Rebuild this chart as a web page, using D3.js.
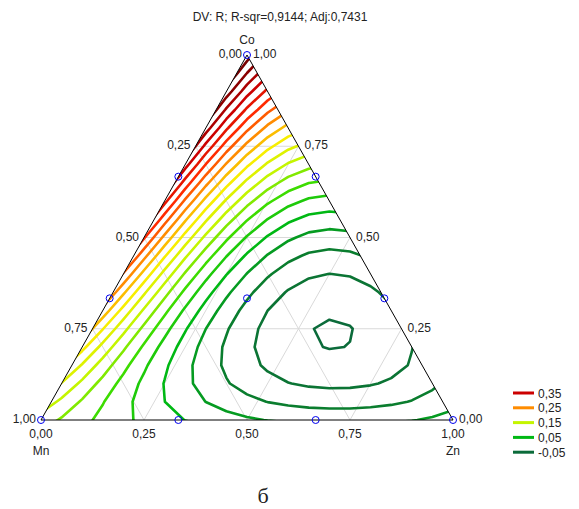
<!DOCTYPE html>
<html>
<head>
<meta charset="utf-8">
<script src="https://cdn.jsdelivr.net/npm/d3@7"></script>
<style>
  body { margin: 0; background: #fff; }
  svg { display: block; font-family: Arial, "Liberation Sans", sans-serif; }
</style>
</head>
<body>
<svg id="chart" width="579" height="509"></svg>
<script>
// Special cubic mixture model for R; components ordered Mn, Zn, Co
const linearCoef = [0.138, 0.034, 0.438];     // Mn, Zn, Co
const binaryCoef = [-0.229, 0.06, -0.878];    // Mn*Zn, Mn*Co, Zn*Co
const ternaryCoef = -2.33;                    // Mn*Zn*Co

// Contour levels and legend entries
const levels = [-0.05, -0.025, 0, 0.025, 0.05, 0.075, 0.1, 0.125, 0.15, 0.175,
                0.2, 0.225, 0.25, 0.275, 0.3, 0.325, 0.35, 0.375, 0.4, 0.425];
const legendLevels = [0.35, 0.25, 0.15, 0.05, -0.05];
const colorStops = [-0.05, 0, 0.05, 0.1, 0.15, 0.2, 0.25, 0.3, 0.35, 0.4, 0.45];
const colorValues = ["#0b6b3a", "#0a7d2e", "#00b814", "#3ddc00", "#c4f500",
                     "#f7ee00", "#ff8c00", "#ff2a00", "#cc0000", "#8a0000", "#6a0000"];

// Axis ticks and mixture design points (fractions)
const tickValues = [0, 0.25, 0.5, 0.75, 1];
const gridValues = [0.25, 0.5, 0.75];
const designMn = [1, 0, 0, 2/3, 1/3, 2/3, 1/3, 0, 0, 1/3];
const designZn = [0, 1, 0, 1/3, 2/3, 0, 0, 2/3, 1/3, 1/3];
const designCo = [0, 0, 1, 0, 0, 1/3, 2/3, 1/3, 2/3, 1/3];
const titleText = "DV: R; R-sqr=0,9144; Adj:0,7431";

const svg = d3.select("#chart");
const fmt = d3.formatLocale({decimal: ",", thousands: " ", grouping: [3],
                             currency: ["", ""], minus: "-"}).format(".2f");

// Ternary projection: u = Zn + Co/2 along the base, v = Co up the height
const xScale = d3.scaleLinear().domain([0, 1]).range([41, 453]);
const yScale = d3.scaleLinear().domain([0, 1]).range([420, 55]);
const px = (mn, zn, co) => xScale(zn + co / 2);
const py = (mn, zn, co) => yScale(co);

const color = d3.scaleLinear().domain(colorStops).range(colorValues);

function response(mn, zn, co) {
  return linearCoef[0] * mn + linearCoef[1] * zn + linearCoef[2] * co
       + binaryCoef[0] * mn * zn + binaryCoef[1] * mn * co + binaryCoef[2] * zn * co
       + ternaryCoef * mn * zn * co;
}

// Evaluation grid over the (u, v) plane, a little wider than the triangle
const steps = 20, pad = 2;
const nx = steps + 1 + 2 * pad, ny = steps + 1 + 2 * pad;
const uMin = -pad / steps, uMax = 1 + pad / steps;
const vMin = -pad / steps, vMax = 1 + pad / steps;
const values = new Array(nx * ny);
for (let j = 0; j < ny; j++) {
  const v = vMin + (vMax - vMin) * j / (ny - 1);
  for (let i = 0; i < nx; i++) {
    const u = uMin + (uMax - uMin) * i / (nx - 1);
    const co = v, zn = u - v / 2, mn = 1 - zn - co;
    values[j * nx + i] = response(mn, zn, co);
  }
}
const gx = d3.scaleLinear().domain([0.5, nx - 0.5]).range([uMin, uMax]);
const gy = d3.scaleLinear().domain([0.5, ny - 0.5]).range([vMin, vMax]);
const path = d3.geoPath(d3.geoTransform({
  point(x, y) { this.stream.point(xScale(gx(x)), yScale(gy(y))); }
}));
const contours = d3.contours().size([nx, ny]).thresholds(levels)(values);

// Triangle outline and clip
const corners = [[1, 0, 0], [0, 1, 0], [0, 0, 1]];
const triPoints = corners.map(c => [px(...c), py(...c)]);
svg.append("clipPath").attr("id", "tri")
  .append("polygon").attr("points", triPoints.map(p => p.join(",")).join(" "));

// Grid lines
const gridSegs = [];
gridValues.forEach(t => {
  gridSegs.push([[1 - t, 0, t], [0, 1 - t, t]]);   // Co = t
  gridSegs.push([[1 - t, t, 0], [0, t, 1 - t]]);   // Zn = t
  gridSegs.push([[t, 1 - t, 0], [t, 0, 1 - t]]);   // Mn = t
});
svg.append("g").selectAll("line").data(gridSegs).join("line")
  .attr("x1", d => px(...d[0])).attr("y1", d => py(...d[0]))
  .attr("x2", d => px(...d[1])).attr("y2", d => py(...d[1]))
  .attr("stroke", "#d9d9d9").attr("stroke-width", 1);

// Contour lines
svg.append("g").attr("clip-path", "url(#tri)")
  .selectAll("path").data(contours).join("path")
  .attr("d", path)
  .attr("fill", "none")
  .attr("stroke", d => color(d.value))
  .attr("stroke-width", 2.6)
  .attr("stroke-linejoin", "round");

// Triangle edges
svg.append("polygon")
  .attr("points", triPoints.map(p => p.join(",")).join(" "))
  .attr("fill", "none").attr("stroke", "#000").attr("stroke-width", 1);

// Design points
svg.append("g").selectAll("circle").data(d3.range(designMn.length)).join("circle")
  .attr("cx", i => px(designMn[i], designZn[i], designCo[i]))
  .attr("cy", i => py(designMn[i], designZn[i], designCo[i]))
  .attr("r", 3.5).attr("fill", "none").attr("stroke", "#0000ee").attr("stroke-width", 1);

// Title
svg.append("text").attr("x", 280).attr("y", 21).attr("text-anchor", "middle")
  .attr("font-size", 12).attr("fill", "#222").text(titleText);

const labels = svg.append("g").attr("font-size", 12).attr("fill", "#222");
// Bottom axis: Zn fraction
tickValues.forEach(t => {
  labels.append("text").attr("x", px(1 - t, t, 0)).attr("y", 438)
    .attr("text-anchor", "middle").text(fmt(t));
});
// Left edge: Mn fraction
tickValues.forEach(t => {
  const co = 1 - t;
  labels.append("text").attr("x", px(t, 0, co) - 5).attr("y", py(t, 0, co) + 3)
    .attr("text-anchor", "end").text(fmt(t));
});
// Right edge: Co fraction
tickValues.forEach(t => {
  labels.append("text").attr("x", px(0, 1 - t, t) + 6).attr("y", py(0, 1 - t, t) + 3)
    .attr("text-anchor", "start").text(fmt(t));
});
// Component names
labels.append("text").attr("x", px(0, 0, 1)).attr("y", 44).attr("text-anchor", "middle").text("Co");
labels.append("text").attr("x", px(1, 0, 0)).attr("y", 455).attr("text-anchor", "middle").text("Mn");
labels.append("text").attr("x", px(0, 1, 0)).attr("y", 455).attr("text-anchor", "middle").text("Zn");

// Legend
const legend = svg.append("g").attr("transform", "translate(513,393)");
legendLevels.forEach((lv, k) => {
  const g = legend.append("g").attr("transform", `translate(0,${k * 14.8})`);
  g.append("line").attr("x1", 0).attr("x2", 21).attr("y1", 0).attr("y2", 0)
    .attr("stroke", color(lv)).attr("stroke-width", 3);
  g.append("text").attr("x", 25).attr("y", 4.5).attr("font-size", 12)
    .attr("fill", "#222").text(fmt(lv));
});

// Panel letter
svg.append("text").attr("x", 263).attr("y", 503).attr("text-anchor", "middle")
  .attr("font-family", "'Liberation Serif', 'Times New Roman', serif")
  .attr("font-size", 22).attr("fill", "#222").text("б");
</script>
</body>
</html>
